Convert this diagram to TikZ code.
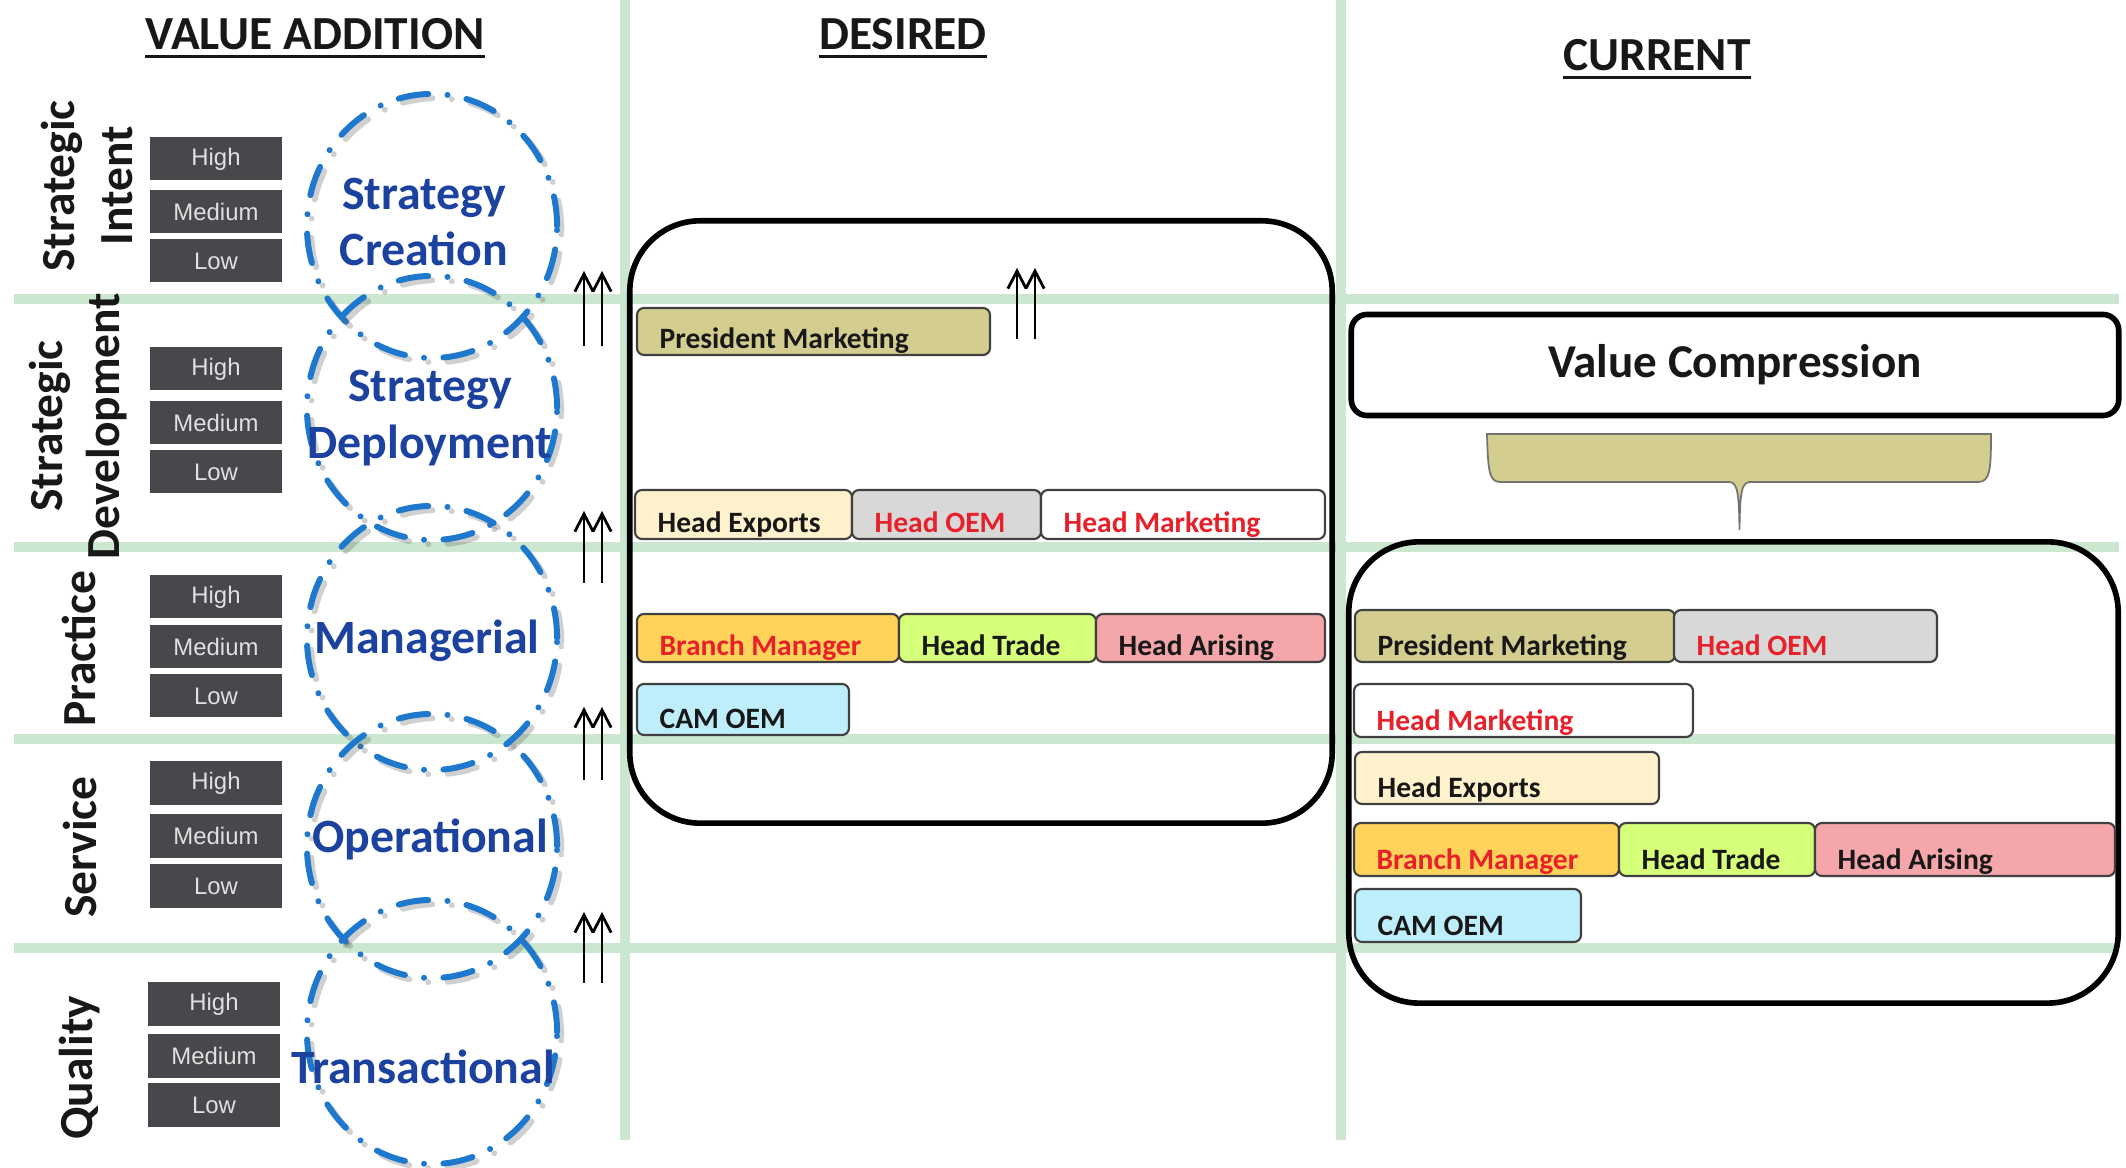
\documentclass[tikz,border=0pt]{standalone}
\usepackage{fontspec}
\setmainfont{Carlito}
\newfontfamily\lvlfont{Liberation Sans}
\usetikzlibrary{arrows.meta,shapes.geometric}

\definecolor{gridgreen}{RGB}{204,231,208}
\definecolor{lvlgray}{RGB}{72,72,76}
\definecolor{lvltext}{RGB}{224,224,224}
\definecolor{ringblue}{RGB}{30,120,205}
\definecolor{ringtext}{RGB}{28,66,160}
\definecolor{khaki}{RGB}{211,205,143}
\definecolor{cream}{RGB}{255,241,204}
\definecolor{oemgray}{RGB}{216,216,216}
\definecolor{amber}{RGB}{255,210,90}
\definecolor{lime}{RGB}{214,255,122}
\definecolor{rose}{RGB}{244,166,170}
\definecolor{skycyan}{RGB}{190,238,252}
\definecolor{alertred}{RGB}{232,32,42}
\definecolor{inkblack}{RGB}{24,24,24}

% a coloured label bar: name, x1, y1, x2, y2, fill, text colour, text
\newcommand\tagbar[8]{%
  \node[barbox, fill=#6, minimum width={(#4-#2)*0.01cm}, minimum height={(#5-#3)*0.01cm}]
    (#1) at ({(#2+#4)/2},{(#3+#5)/2}) {};
  \node[bartext, text=#7] (#1-t) at ([xshift=0.23cm, yshift=0.08cm]#1.south west) {#8};
}
% High / Medium / Low stack: prefix, x, three y centres
\newcommand\levelstack[5]{%
  \node[lvl] (#1-h) at (#2,#3) {High};
  \node[lvl] (#1-m) at (#2,#4) {Medium};
  \node[lvl] (#1-l) at (#2,#5) {Low};
}
% pair of thin upward arrows: name, x, y bottom, y top
\newcommand\twinarrow[4]{%
  \coordinate (#1-b1) at (#2,#3);
  \coordinate (#1-t1) at (#2,#4);
  \coordinate (#1-b2) at ({#2+18},#3);
  \coordinate (#1-t2) at ({#2+18},#4);
  \draw[uparrow] (#1-b1) -- (#1-t1);
  \draw[uparrow] (#1-b2) -- (#1-t2);
}
% dashed ring with a soft shadow: name, x, y
\newcommand\valuering[3]{%
  \node[ring, draw=black!60, draw opacity=0.3] at ([xshift=1.2pt, yshift=-1.2pt]#2,#3) {};
  \node[ring] (#1) at (#2,#3) {};
}

\begin{document}
\begin{tikzpicture}[x=0.01cm, y=-0.01cm,
  gridline/.style={draw=gridgreen, line width=2.7pt},
  lvl/.style={fill=lvlgray, minimum width=1.32cm, minimum height=0.43cm, inner sep=0,
    font=\lvlfont\fontsize{6.8}{8}\selectfont, text=lvltext},
  ring/.style={ellipse, draw=ringblue, line width=1.7pt, line cap=round,
    dash pattern=on 8.5pt off 5.5pt on 0.01pt off 5.5pt,
    minimum width=2.5cm, minimum height=2.64cm, inner sep=0},
  ringlabel/.style={text=ringtext, font=\bfseries\fontsize{13.6}{16.2}\selectfont, align=center, inner sep=0},
  rowlabel/.style={rotate=90, font=\bfseries\fontsize{13.5}{16.3}\selectfont, align=center,
    text=inkblack, inner sep=0},
  heading/.style={font=\bfseries\fontsize{13.5}{15}\selectfont, inner sep=0, anchor=base, text=inkblack},
  headrule/.style={draw=inkblack, line width=0.85pt},
  panel/.style={draw=black, line width=1.6pt, rounded corners=20pt, inner sep=0},
  barbox/.style={draw=black!75, line width=0.6pt, rounded corners=2pt, inner sep=0},
  bartext/.style={font=\bfseries\fontsize{8.4}{10}\selectfont, inner sep=0, anchor=base west},
  uparrow/.style={-{Straight Barb[length=5pt,width=5.2pt]}, line width=0.8pt, draw=black}]

\fill[white] (0,0) rectangle (2126,1168);
\useasboundingbox (0,0) rectangle (2126,1168);

% grid of section lines
\foreach \yy in {299,547,739,948} \draw[gridline] (14,\yy) -- (2119,\yy);
\foreach \xx in {625,1341} \draw[gridline] (\xx,0) -- (\xx,1140);

% column headings
\node[heading] (hva) at (315,50) {VALUE ADDITION};
\node[heading] (hde) at (903,50) {DESIRED};
\node[heading] (hcu) at (1657,71) {CURRENT};
\foreach \h in {hva,hde,hcu}
  \draw[headrule] ([yshift=-0.07cm]\h.base west) -- ([yshift=-0.07cm]\h.base east);

% row labels
\node[rowlabel] (r1) at (87,186) {Strategic\\Intent};
\node[rowlabel] (r2) at (78,426) {Strategic\\Development};
\node[rowlabel] (r3) at (79,649) {Practice};
\node[rowlabel] (r4) at (80,847) {Service};
\node[rowlabel] (r5) at (80,1068) {Quality};

% level stacks
\levelstack{g1}{216}{159}{212}{261}
\levelstack{g2}{216}{369}{423}{472}
\levelstack{g3}{216}{597}{647}{696}
\levelstack{g4}{216}{783}{836}{886}
\levelstack{g5}{214}{1004}{1056}{1105}

% overlapping rings of value addition
\valuering{c1}{432}{226}
\valuering{c2}{432}{408}
\valuering{c3}{432}{638}
\valuering{c4}{432}{846}
\valuering{c5}{432}{1032}
\node[ringlabel] (c1-t) at (424,222) {Strategy\\Creation};
\node[ringlabel] (c2-t) at (430,418) {Strategy\\Deployment};
\node[ringlabel] (c3-t) at (427,641) {Managerial};
\node[ringlabel] (c4-t) at (430,839) {Operational};
\node[ringlabel] (c5-t) at (423,1067) {Transactional};

% upward arrows
\twinarrow{u1}{584}{346}{271}
\twinarrow{u2}{584}{583}{511}
\twinarrow{u3}{584}{780}{707}
\twinarrow{u4}{584}{983}{912}
\twinarrow{u5}{1017}{339}{268}

% desired panel
\node[panel, minimum width=7.02cm, minimum height=6.02cm] (desired) at (981,522) {};
\tagbar{dpm}{637}{308}{990}{355}{khaki}{inkblack}{President Marketing}
\tagbar{dhe}{635}{490}{852}{539}{cream}{inkblack}{Head Exports}
\tagbar{dho}{852}{490}{1041}{539}{oemgray}{alertred}{Head OEM}
\tagbar{dhm}{1041}{490}{1325}{539}{white}{alertred}{Head Marketing}
\tagbar{dbm}{637}{614}{899}{662}{amber}{alertred}{Branch Manager}
\tagbar{dht}{899}{614}{1096}{662}{lime}{inkblack}{Head Trade}
\tagbar{dha}{1096}{614}{1325}{662}{rose}{inkblack}{Head Arising}
\tagbar{dcam}{637}{684}{849}{735}{skycyan}{inkblack}{CAM OEM}

% current side
\node[panel, rounded corners=4.5pt, minimum width=7.67cm, minimum height=1.01cm,
  font=\bfseries\fontsize{13.4}{16}\selectfont, text=inkblack] (vc) at (1735,365) {Value Compression};
\filldraw[fill=khaki, draw=black!55, line width=0.5pt]
  (1487,434) -- (1991,434) .. controls (1991,470) and (1990,482) .. (1978,482)
  -- (1750,482) .. controls (1741,482) and (1740,495) .. (1739.5,530)
  .. controls (1739,495) and (1738,482) .. (1729,482)
  -- (1500,482) .. controls (1489,482) and (1488,470) .. (1487,434) -- cycle;
\node[panel, minimum width=7.69cm, minimum height=4.61cm] (current) at (1733.5,772.5) {};
\tagbar{cpm}{1355}{610}{1675}{662}{khaki}{inkblack}{President Marketing}
\tagbar{cho}{1674}{610}{1937}{662}{oemgray}{alertred}{Head OEM}
\tagbar{chm}{1354}{684}{1693}{737}{white}{alertred}{Head Marketing}
\tagbar{che}{1355}{752}{1659}{804}{cream}{inkblack}{Head Exports}
\tagbar{cbm}{1354}{823}{1619}{876}{amber}{alertred}{Branch Manager}
\tagbar{cht}{1619}{823}{1815}{876}{lime}{inkblack}{Head Trade}
\tagbar{cha}{1815}{823}{2115}{876}{rose}{inkblack}{Head Arising}
\tagbar{ccam}{1355}{889}{1581}{942}{skycyan}{inkblack}{CAM OEM}

\end{tikzpicture}
\end{document}
